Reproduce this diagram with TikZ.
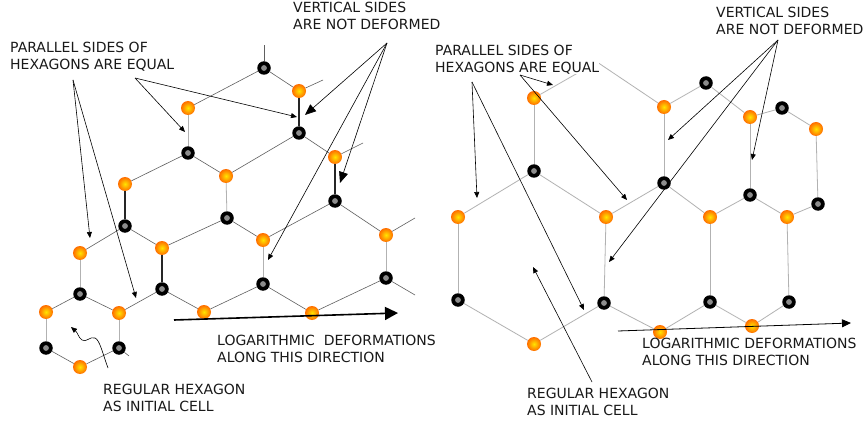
\documentclass[tikz,border=0pt]{standalone}
\usepackage{fontspec}
\setmainfont{DejaVu Sans}
\usetikzlibrary{arrows.meta}
\begin{document}
\begin{tikzpicture}[x=1pt,y=-1pt,
 oatom/.style={circle, inner sep=0pt, minimum size=14pt, inner color=yellow!80!orange, outer color=orange!85!red},
 batom/.style={circle, inner sep=0pt, minimum size=13.5pt, fill=black,
   path picture={\fill[gray!90] (path picture bounding box.center) circle (2.9pt);}},
 bond/.style={draw=gray!75!black, line width=0.6pt},
 bondl/.style={draw=gray!60, line width=0.8pt},
 bondk/.style={draw=black!85, line width=1.4pt},
 ann/.style={draw=black, line width=0.6pt, -{Triangle[length=6pt,width=5pt]}},
 annbig/.style={draw=black, line width=0.6pt, -{Triangle[length=11pt,width=9pt]}},
 lbl/.style={font=\fontsize{14}{17}\selectfont, align=left, anchor=north west, inner sep=0pt, text=black!90},
]
\useasboundingbox (0,0) rectangle (865,425);
\fill[white] (0,0) rectangle (865,425);

% ---------------- left lattice atoms ----------------
\node[batom] (lB1) at (264,68) {};
\node[oatom] (lO1) at (299,91) {};
\node[oatom] (lO2) at (188,108) {};
\node[batom] (lB2) at (299,133) {};
\node[batom] (lB3) at (188,153) {};
\node[oatom] (lO3) at (335,157) {};
\node[oatom] (lO4) at (226,176) {};
\node[oatom] (lO5) at (125,184) {};
\node[batom] (lB4) at (335,201) {};
\node[batom] (lB5) at (227,218) {};
\node[batom] (lB6) at (125,226) {};
\node[oatom] (lO6) at (80,253) {};
\node[oatom] (lO7) at (162,248) {};
\node[oatom] (lO8) at (263,240) {};
\node[oatom] (lO9) at (386,235) {};
\node[batom] (lB7) at (80,294) {};
\node[batom] (lB8) at (162,289) {};
\node[batom] (lB9) at (263,284) {};
\node[batom] (lB10) at (386,278) {};
\node[oatom] (lO10) at (46,312) {};
\node[oatom] (lO11) at (119,313) {};
\node[oatom] (lO12) at (204,312) {};
\node[oatom] (lO13) at (312,313) {};
\node[batom] (lB11) at (46,348) {};
\node[batom] (lB12) at (119,348) {};
\node[oatom] (lO14) at (80,367) {};
\coordinate (lt0) at (264,45);
\coordinate (lf1) at (323,80);
\coordinate (lf2) at (363,143);
\coordinate (lf3) at (415,218);
\coordinate (lf4) at (415,295);
\coordinate (lf5) at (129,356);

% left bonds
\draw[bond] (lB1) -- (lt0);
\draw[bond] (lB1) -- (lO2);
\draw[bond] (lB1) -- (lO1);
\draw[bond] (lO1) -- (lf1);
\draw[bondk] (lO1) -- (lB2);
\draw[bondl] (lO2) -- (lB3);
\draw[bond] (lB3) -- (lO5);
\draw[bond] (lB3) -- (lO4);
\draw[bond] (lB2) -- (lO4);
\draw[bond] (lB2) -- (lO3);
\draw[bond] (lO3) -- (lf2);
\draw[bondk] (lO3) -- (lB4);
\draw[bondk] (lO5) -- (lB6);
\draw[bondl] (lO4) -- (lB5);
\draw[bond] (lB6) -- (lO6);
\draw[bond] (lB6) -- (lO7);
\draw[bond] (lB5) -- (lO7);
\draw[bond] (lB5) -- (lO8);
\draw[bond] (lB4) -- (lO8);
\draw[bond] (lB4) -- (lO9);
\draw[bond] (lO9) -- (lf3);
\draw[bondl] (lO6) -- (lB7);
\draw[bondk] (lO7) -- (lB8);
\draw[bondl] (lO8) -- (lB9);
\draw[bondl] (lO9) -- (lB10);
\draw[bond] (lB10) -- (lf4);
\draw[bond] (lB7) -- (lO10);
\draw[bond] (lB7) -- (lO11);
\draw[bond] (lB8) -- (lO11);
\draw[bond] (lB8) -- (lO12);
\draw[bond] (lB9) -- (lO12);
\draw[bond] (lB9) -- (lO13);
\draw[bond] (lB10) -- (lO13);
\draw[bondl] (lO10) -- (lB11);
\draw[bondl] (lO11) -- (lB12);
\draw[bond] (lB11) -- (lO14);
\draw[bond] (lB12) -- (lO14);
\draw[bond] (lB12) -- (lf5);

% ---------------- right lattice atoms ----------------
\node[oatom] (rO1) at (534,98) {};
\node[oatom] (rO2) at (664,107) {};
\node[batom] (rB1) at (706,83) {};
\node[batom] (rB2) at (782,108) {};
\node[oatom] (rO3) at (750,117) {};
\node[oatom] (rO4) at (816,129) {};
\node[batom] (rB3) at (534,171) {};
\node[batom] (rB4) at (664,183) {};
\node[batom] (rB5) at (750,195) {};
\node[batom] (rB6) at (818,204) {};
\node[oatom] (rO5) at (458,217) {};
\node[oatom] (rO6) at (606,217) {};
\node[oatom] (rO7) at (710,217) {};
\node[oatom] (rO8) at (787,217) {};
\node[batom] (rB7) at (458,300) {};
\node[batom] (rB8) at (604,303) {};
\node[batom] (rB9) at (710,302) {};
\node[batom] (rB10) at (789,302) {};
\node[oatom] (rO9) at (534,344) {};
\node[oatom] (rO10) at (660,332) {};
\node[oatom] (rO11) at (752,326) {};
\coordinate (rt) at (597,62);

% right bonds
\draw[bondl] (rO1) -- (rt);
\draw[bondl] (rt) -- (rO2);
\draw[bondl] (rO1) -- (rB3);
\draw[bondl] (rB3) -- (rO5);
\draw[bondl] (rB3) -- (rO6);
\draw[bondl] (rO5) -- (rB7);
\draw[bondl] (rB7) -- (rO9);
\draw[bondl] (rO9) -- (rB8);
\draw[bondl] (rB8) -- (rO6);
\draw[bondl] (rB8) -- (rO10);
\draw[bondl] (rO10) -- (rB9);
\draw[bondl] (rB9) -- (rO7);
\draw[bondl] (rB9) -- (rO11);
\draw[bondl] (rO11) -- (rB10);
\draw[bondl] (rB10) -- (rO8);
\draw[bondl] (rO6) -- (rB4);
\draw[bondl] (rB4) -- (rO7);
\draw[bondl] (rB4) -- (rO2);
\draw[bondl] (rO2) -- (rB1);
\draw[bondl] (rB1) -- (rO3);
\draw[bondl] (rO3) -- (rB5);
\draw[bondl] (rO3) -- (rB2);
\draw[bondl] (rB2) -- (rO4);
\draw[bondl] (rO4) -- (rB6);
\draw[bondl] (rB5) -- (rO7);
\draw[bondl] (rB5) -- (rO8);
\draw[bondl] (rO8) -- (rB6);

% ---------------- labels ----------------
\node[lbl] (lVS) at (293,2) {VERTICAL SIDES\\ARE NOT DEFORMED};
\node[lbl] (lPS) at (10,42) {PARALLEL SIDES OF\\HEXAGONS ARE EQUAL};
\node[lbl] (lRH) at (103,384) {REGULAR HEXAGON\\AS INITIAL CELL};
\node[lbl] (lLD) at (217,335) {LOGARITHMIC\ \ DEFORMATIONS\\ALONG THIS DIRECTION};
\node[lbl, fill=white] (rPS) at (435,45) {PARALLEL SIDES OF\\HEXAGONS ARE EQUAL};
\node[lbl] (rVS) at (716,7) {VERTICAL SIDES\\ARE NOT DEFORMED};
\node[lbl] (rRH) at (527,388) {REGULAR HEXAGON\\AS INITIAL CELL};
\node[lbl] (rLD) at (642,338) {LOGARITHMIC DEFORMATIONS\\ALONG THIS DIRECTION};

% ---------------- annotation arrows, left ----------------
\coordinate (la) at (135,78);
\coordinate (la1) at (185,132);
\coordinate (la2) at (297,117);
\coordinate (lb) at (73,80);
\coordinate (lb1) at (90,238);
\coordinate (lb2) at (136,298);
\coordinate (lc) at (387,43);
\coordinate (lc1) at (305,115);
\coordinate (lc2) at (340,183);
\coordinate (lc3) at (268,260);
\coordinate (lw0) at (108,368);
\coordinate (lw1) at (71,327);
\coordinate (ld0) at (174,320);
\coordinate (ld1) at (398,313);
\draw[ann] (la) -- (la1);
\draw[ann] (la) -- (la2);
\draw[ann] (lb) -- (lb1);
\draw[ann] (lb) -- (lb2);
\draw[annbig] (lc) -- (lc1);
\draw[annbig] (lc) -- (lc2);
\draw[ann] (lc) -- (lc3);
\draw[ann] (lw0) .. controls (103,355) and (100,340) .. (95,338)
  .. controls (90,336) and (86,343) .. (82,340)
  .. controls (78,337) and (78,333) .. (lw1);
\draw[draw=black, line width=1.6pt, -{Triangle[length=13pt,width=13pt]}] (ld0) -- (ld1);

% ---------------- annotation arrows, right ----------------
\coordinate (rd) at (472,82);
\coordinate (rd1) at (477,198);
\coordinate (rd2) at (584,310);
\coordinate (re) at (520,75);
\coordinate (re1) at (553,85);
\coordinate (re2) at (627,200);
\coordinate (rf) at (778,40);
\coordinate (rf1) at (668,140);
\coordinate (rf2) at (752,160);
\coordinate (rf3) at (609,262);
\coordinate (rh0) at (592,382);
\coordinate (rh1) at (533,267);
\coordinate (rl0) at (618,331);
\coordinate (rl1) at (851,323);
\draw[ann] (rd) -- (rd1);
\draw[ann] (rd) -- (rd2);
\draw[ann] (re) -- (re1);
\draw[ann] (re) -- (re2);
\draw[ann] (rf) -- (rf1);
\draw[ann] (rf) -- (rf2);
\draw[ann] (rf) -- (rf3);
\draw[ann] (rh0) -- (rh1);
\draw[draw=black, line width=0.8pt, -{Triangle[length=9pt,width=8pt]}] (rl0) -- (rl1);
\end{tikzpicture}
\end{document}
